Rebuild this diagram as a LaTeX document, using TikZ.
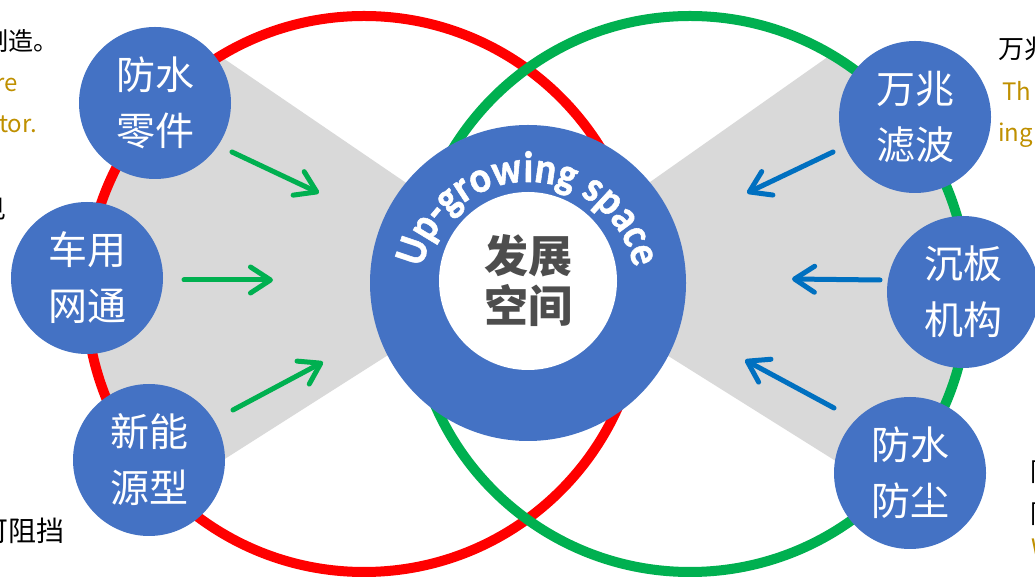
\documentclass[tikz,border=0pt]{standalone}
\usepackage{fontspec}
\setmainfont{Noto Sans CJK SC}
\newfontfamily\cjk{Noto Sans CJK SC}
\newfontfamily\arcfont{Carlito}[BoldFeatures={FakeBold=1.2}, FakeStretch=0.9]
\usetikzlibrary{arrows.meta,decorations.text}
\definecolor{ppblue}{HTML}{4472C4}
\definecolor{ppred}{HTML}{FF0000}
\definecolor{ppgreen}{HTML}{00B050}
\definecolor{arrblue}{HTML}{0070C0}
\definecolor{gold}{HTML}{BF9000}
\definecolor{wedgegray}{HTML}{D9D9D9}
\definecolor{darktext}{HTML}{4D4D4D}
\begin{document}
\begin{tikzpicture}[x=1pt,y=1pt,
  bubble/.style={circle, fill=ppblue, minimum size=152pt, inner sep=0pt, text=white, align=center, font=\cjk\fontsize{39}{56}\selectfont},
  ring/.style={line width=10pt},
  inarrow/.style={line width=5pt, line cap=round, -{Straight Barb[length=20pt,width=26pt,round]}},
  side/.style={inner sep=0pt, font=\cjk\fontsize{26}{26}\selectfont},
  sidegold/.style={inner sep=0pt, text=gold, font=\cjk\fontsize{24}{24}\selectfont}]
\useasboundingbox (0,0) rectangle (1035,583);
\fill[white] (0,0) rectangle (1035,583);
% gray wedges
\begin{scope}
  \clip (364,289) circle[radius=278pt];
  \fill[wedgegray] (528,317) -- (0,677) -- (0,-19) -- cycle;
\end{scope}
\begin{scope}
  \clip (690,289) circle[radius=278pt];
  \fill[wedgegray] (528,315) -- (1035,672) -- (1035,-3) -- cycle;
\end{scope}
% rings
\draw[ppred, ring] (364,289) circle[radius=278pt];
\draw[ppgreen, ring] (690,289) circle[radius=278pt];
% hub
\node[circle, fill=ppblue, minimum size=316pt, inner sep=0pt] (hub) at (528,300) {};
\node[circle, fill=white, minimum size=178pt, inner sep=0pt, text=darktext, align=center,
      font=\cjk\bfseries\fontsize{44}{50}\selectfont] (core) at (528,302) {发展\\空间};
\path[decorate, decoration={text along path, text align=center, text color=white,
      text={|\arcfont\bfseries\fontsize{44}{44}\selectfont|Up-growing space}}]
      (420,293) arc[start angle=180, end angle=0, radius=108pt];
% bubbles
\node[bubble] (n1) at (155,480) {防水\\零件};
\node[bubble] (n2) at (87,305) {车用\\网通};
\node[bubble] (n3) at (149,123) {新能\\源型};
\node[bubble] (n4) at (915,466) {万兆\\滤波};
\node[bubble] (n5) at (963,291) {沉板\\机构};
\node[bubble] (n6) at (910,110) {防水\\防尘};
% arrows
\coordinate (l1s) at (232,431); \coordinate (l1e) at (319,390);
\coordinate (l2s) at (184,303); \coordinate (l2e) at (273,303);
\coordinate (l3s) at (233,173); \coordinate (l3e) at (323,221);
\coordinate (r1s) at (833,431); \coordinate (r1e) at (747,390);
\coordinate (r2s) at (880,303); \coordinate (r2e) at (792,304);
\coordinate (r3s) at (834,175); \coordinate (r3e) at (745,223);
\draw[inarrow, ppgreen] (l1s) -- (l1e);
\draw[inarrow, ppgreen] (l2s) -- (l2e);
\draw[inarrow, ppgreen] (l3s) -- (l3e);
\draw[inarrow, arrblue] (r1s) -- (r1e);
\draw[inarrow, arrblue] (r2s) -- (r2e);
\draw[inarrow, arrblue] (r3s) -- (r3e);
% cut-off side texts
\node[side, anchor=base east, font=\cjk\fontsize{25}{25}\selectfont] (tl1) at (59,532) {制造。};
\node[sidegold, anchor=base east] (tl2) at (18,491) {re};
\node[sidegold, anchor=base east] (tl3) at (37,450) {tor.};
\node[side, anchor=base east] (tl4) at (7,364) {见};
\node[side, anchor=base east, font=\cjk\fontsize{28}{28}\selectfont] (tl5) at (65,41) {可阻挡};
\node[side, anchor=base west] (tr1) at (998,524) {万兆};
\node[sidegold, anchor=base west] (tr2) at (1002,482) {Th};
\node[sidegold, anchor=base west] (tr3) at (998,441) {ing};
\node[side, anchor=base west] (tr4) at (1030,101) {防};
\node[side, anchor=base west] (tr5) at (1030,59) {防};
\node[sidegold, anchor=base west] (tr6) at (1031,26) {W};
\end{tikzpicture}
\end{document}
